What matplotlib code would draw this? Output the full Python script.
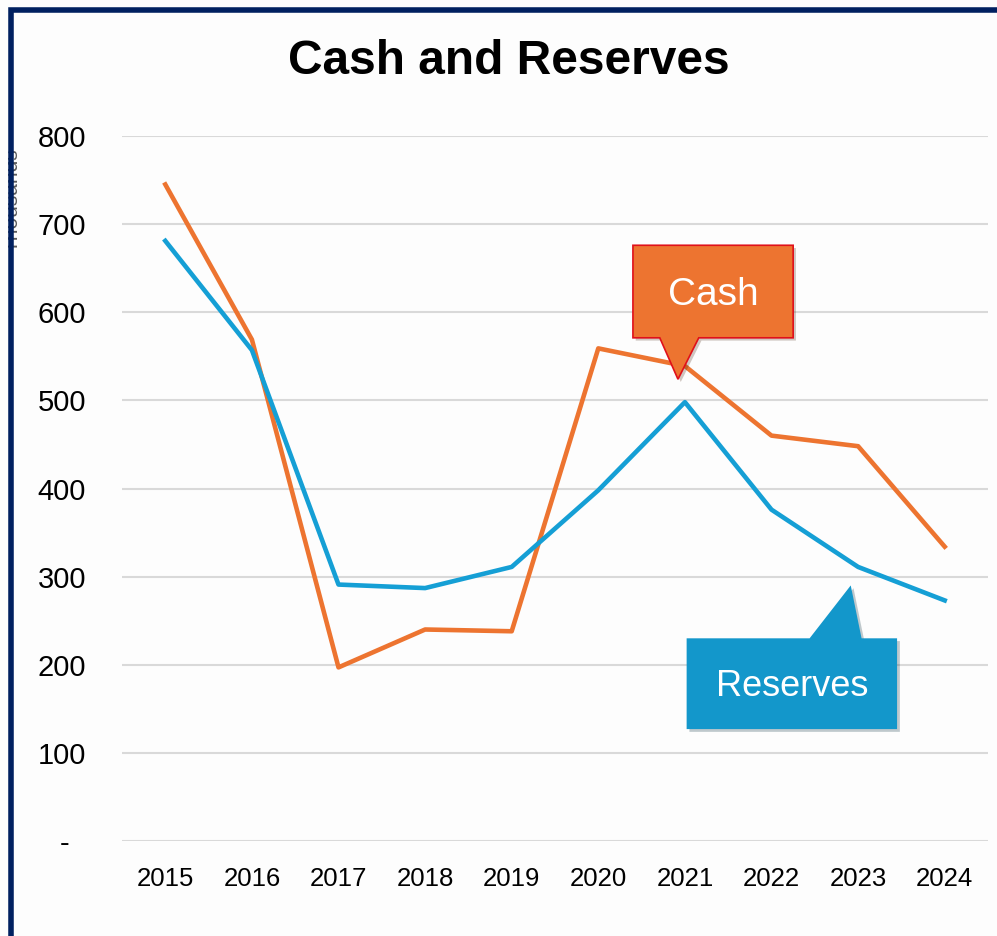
import matplotlib
matplotlib.use("Agg")
import matplotlib.pyplot as plt
from matplotlib.patches import Polygon, Rectangle
import matplotlib.patheffects as pe

years = ["2015", "2016", "2017", "2018", "2019", "2020", "2021", "2022", "2023", "2024"]
cash = [745, 569, 197, 240, 238, 559, 539, 460, 448, 334]
reserves = [681, 557, 291, 287, 311, 398, 498, 376, 311, 273]
yticks = [0, 100, 200, 300, 400, 500, 600, 700, 800]
ytick_labels = ["-  ", "100", "200", "300", "400", "500", "600", "700", "800"]

W, H = 997, 936
fig = plt.figure(figsize=(W / 100, H / 100), dpi=100)
fig.patch.set_facecolor("#FDFDFD")
plt.rcParams["font.family"] = ["Liberation Sans", "DejaVu Sans"]

ax = fig.add_axes([122 / W, (H - 841) / H, (988 - 122) / W, (841 - 136) / H])
ax.set_facecolor("#FDFDFD")
x = list(range(len(years)))
ax.plot(x, cash, color="#ED7430", lw=3.3, solid_joinstyle="round", zorder=3)
ax.plot(x, reserves, color="#159FD5", lw=3.3, solid_joinstyle="round", zorder=3)
ax.set_xlim(-0.5, len(years) - 0.5)
ax.set_ylim(0, 800)
ax.set_yticks(yticks)
ax.set_yticklabels(ytick_labels)
ax.set_xticks(x)
ax.set_xticklabels(years)
ax.grid(axis="y", color="#D9D9D9", lw=1.5)
ax.set_axisbelow(True)
for s in ax.spines.values():
    s.set_visible(False)
ax.tick_params(axis="y", length=0, pad=26, labelsize=21)
ax.tick_params(axis="x", length=0, pad=19, labelsize=18.5)

fig.text(509 / W, (H - 62) / H, "Cash and Reserves", ha="center", va="center",
         fontsize=34.5, fontweight="bold")
fig.text(12 / W, (H - 200) / H, "Thousands", rotation=90, ha="center", va="center",
         fontsize=15, color="#595959")

shadow = [pe.SimplePatchShadow(offset=(2, -2), alpha=0.25), pe.Normal()]
# Cash callout
cash_poly = [(5.40, 676), (7.25, 676), (7.25, 571), (6.16, 571), (5.92, 524),
             (5.71, 571), (5.40, 571)]
ax.add_patch(Polygon(cash_poly, closed=True, facecolor="#ED7430", edgecolor="#E0101A",
                     lw=1.2, zorder=5, clip_on=False, path_effects=shadow))
ax.text(6.325, 620, "Cash", color="white", fontsize=28, ha="center", va="center", zorder=6)
# Reserves callout
res_poly = [(6.02, 230), (7.44, 230), (7.915, 290), (8.04, 230), (8.45, 230),
            (8.45, 127), (6.02, 127)]
ax.add_patch(Polygon(res_poly, closed=True, facecolor="#1397CB", edgecolor="none",
                     zorder=5, clip_on=False, path_effects=shadow))
ax.text(7.235, 175, "Reserves", color="white", fontsize=26, ha="center", va="center", zorder=6)

# border
fig.patches.append(Rectangle((0, 0), 8 / W, 1, transform=fig.transFigure,
                             facecolor="#FDFDFD", edgecolor="none", zorder=9))
fig.patches.append(Rectangle((10.5 / W, -0.1), 1.2, 1.1 - 10.5 / H, transform=fig.transFigure,
                             facecolor="none", edgecolor="#002060", lw=4, zorder=10))

fig.savefig("out.png", dpi=100, facecolor=fig.get_facecolor())
